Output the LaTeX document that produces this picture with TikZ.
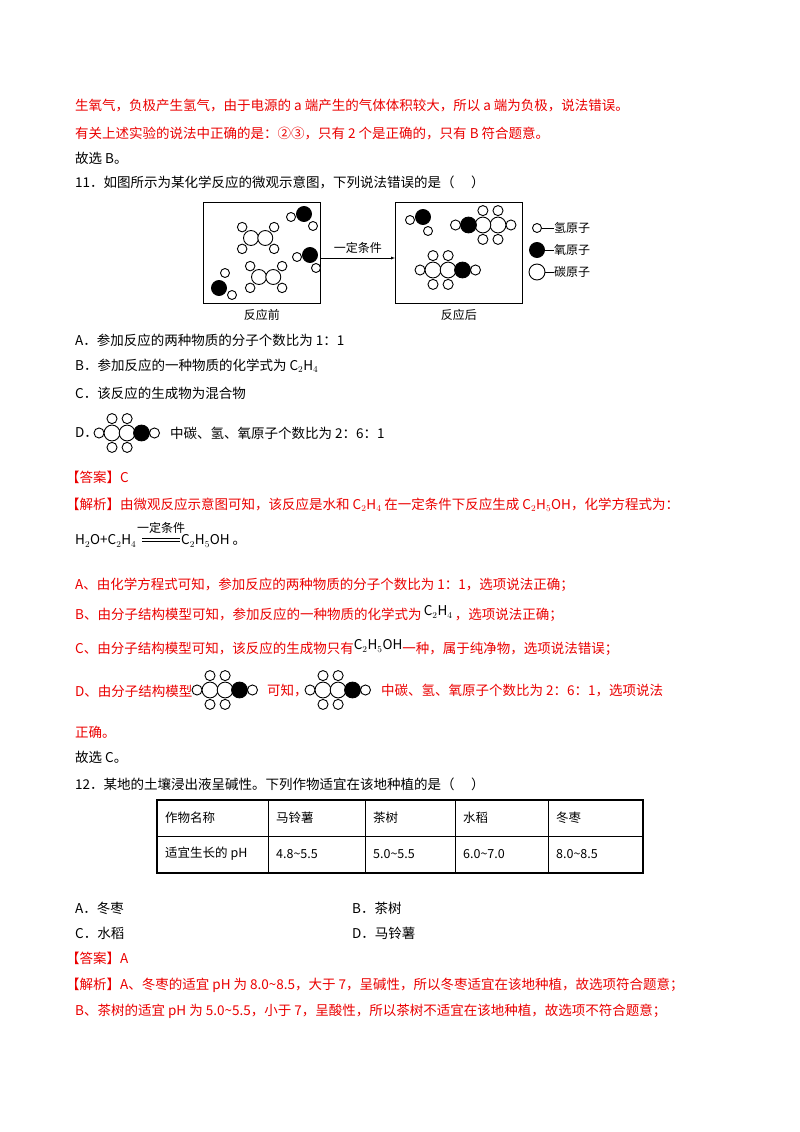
\documentclass[tikz,border=0pt]{standalone}
\usepackage{fontspec}
\setmainfont{Noto Sans CJK SC}
\tikzset{
  txt/.style={anchor=west,inner sep=0pt,font=\fontsize{13.5}{14}\selectfont},
  redtxt/.style={txt,text=ansred},
  hatom/.style={draw,fill=white,line width=0.9pt},
  catom/.style={draw,fill=white,line width=0.9pt},
  oatom/.style={draw,fill=black,line width=0.9pt},
  ethanol/.pic={
    \draw[hatom] (-18,0) circle (7);
    \draw[hatom] (0,-20) circle (7);
    \draw[hatom] (21,-20) circle (7);
    \draw[hatom] (0,20) circle (7);
    \draw[hatom] (21,20) circle (7);
    \draw[hatom] (59,0) circle (7);
    \draw[catom] (0,0) circle (11);
    \draw[catom] (21,0) circle (11);
    \draw[oatom] (41,0) circle (11);
  },
  ethene/.pic={
    \draw[hatom] (-13,-16) circle (7);
    \draw[hatom] (-13,16) circle (7);
    \draw[hatom] (34,-16) circle (7);
    \draw[hatom] (34,16) circle (7);
    \draw[catom] (0,0) circle (11);
    \draw[catom] (21,0) circle (11);
  }
}
\definecolor{ansred}{RGB}{235,0,0}
\begin{document}
\begin{tikzpicture}[x=1pt,y=-1pt]
  \useasboundingbox[fill=white] (0,0) rectangle (800,1132);

  % previous answer
  \node[redtxt] (l1) at (75,106) {生氧气，负极产生氢气，由于电源的 a 端产生的气体体积较大，所以 a 端为负极，说法错误。};
  \node[redtxt] (l2) at (75,133) {有关上述实验的说法中正确的是：②③，只有 2 个是正确的，只有 B 符合题意。};
  \node[txt] (l3) at (75,158) {故选 B。};

  % question 11
  \node[txt] (q11) at (75,182) {11．如图所示为某化学反应的微观示意图，下列说法错误的是（\quad\ ）};
  \node[draw,line width=0.9pt,minimum width=117pt,minimum height=101pt,anchor=north west,inner sep=0] (before) at (203,202) {};
  \node[draw,line width=0.9pt,minimum width=127pt,minimum height=101pt,anchor=north west,inner sep=0] (after) at (395,202) {};
  \coordinate (arrowin) at (395,258);
  \draw[-latex] (before.east |- arrowin) -- (arrowin) node[midway,above=1pt,font=\fontsize{12}{12}\selectfont] (cond) {一定条件};
  \node[font=\fontsize{12}{12}\selectfont] (lbefore) at (before.south |- 0,315) {反应前};
  \node[font=\fontsize{12}{12}\selectfont] (lafter) at (after.south |- 0,315) {反应后};

  % before
  \pic[scale=0.68] at (251,238) {ethene};
  \pic[scale=0.68] at (259,277) {ethene};
  \draw[hatom] (291,217) circle (4.5);
  \draw[hatom] (313,226) circle (4.5);
  \draw[oatom] (304,214) circle (7.5);
  \draw[hatom] (297,257) circle (4.5);
  \draw[hatom] (316,268) circle (4.5);
  \draw[oatom] (310,255) circle (7.5);
  \draw[hatom] (225,273) circle (4.5);
  \draw[hatom] (232,295) circle (4.5);
  \draw[oatom] (219,288) circle (7.5);
  % after
  \draw[hatom] (410,220) circle (4.5);
  \draw[hatom] (428,231) circle (4.5);
  \draw[oatom] (423,217) circle (7.5);
  \pic[scale=0.72,xscale=-1] at (498,225) {ethanol};
  \pic[scale=0.72] at (433,270) {ethanol};
  % legend
  \draw[hatom] (537,228) circle (4.5);
  \draw (541.5,228) -- (554,228);
  \node[anchor=west,inner sep=0,font=\fontsize{12}{12}\selectfont] (hlab) at (554,228) {氢原子};
  \draw[oatom] (537,250) circle (7.5);
  \draw (544.5,250) -- (554,250);
  \node[anchor=west,inner sep=0,font=\fontsize{12}{12}\selectfont] (olab) at (554,250) {氧原子};
  \draw[catom] (537,272) circle (8);
  \draw (545,272) -- (554,272);
  \node[anchor=west,inner sep=0,font=\fontsize{12}{12}\selectfont] (clab) at (554,272) {碳原子};

  % options
  \node[txt] (oa) at (75,340) {A．参加反应的两种物质的分子个数比为 1：1};
  \node[txt] (ob) at (75,366) {B．参加反应的一种物质的化学式为 C$_2$H$_4$};
  \node[txt] (oc) at (75,393) {C．该反应的生成物为混合物};
  \node[txt] (od) at (75,433) {D．};
  \pic[scale=0.72] at (112,433) {ethanol};
  \node[txt] (odt) at (170,433) {中碳、氢、氧原子个数比为 2：6：1};

  % answer
  \node[redtxt] (ans) at (66,477) {【答案】C};
  \node[redtxt] (ana) at (66,505) {【解析】由微观反应示意图可知，该反应是水和 C$_2$H$_4$ 在一定条件下反应生成 C$_2$H$_5$OH，化学方程式为：};
  \node[txt] (eq1) at (75,541) {H$_2$O+C$_2$H$_4$};
  \draw (142,538) -- (180,538) (142,541) -- (180,541);
  \node[font=\fontsize{12}{12}\selectfont,inner sep=0] (eqc) at (161,528) {一定条件};
  \node[txt] (eq2) at (181,541) {C$_2$H$_5$OH 。};
  \node[redtxt] (sa) at (75,585) {A、由化学方程式可知，参加反应的两种物质的分子个数比为 1：1，选项说法正确；};
  \node[redtxt] (sb) at (75,614) {B、由分子结构模型可知，参加反应的一种物质的化学式为\,\raisebox{4pt}{\color{black}C$_2$H$_4$}\,，选项说法正确；};
  \node[redtxt] (sc) at (75,648) {C、由分子结构模型可知，该反应的生成物只有\raisebox{4pt}{\color{black}C$_2$H$_5$OH}一种，属于纯净物，选项说法错误；};
  \node[redtxt] (sd) at (75,691) {D、由分子结构模型};
  \pic[scale=0.72] at (210,690) {ethanol};
  \node[redtxt] (sd2) at (267,691) {可知，};
  \pic[scale=0.72] at (323,690) {ethanol};
  \node[redtxt] (sd3) at (381,691) {中碳、氢、氧原子个数比为 2：6：1，选项说法};
  \node[redtxt] (sd4) at (75,732) {正确。};
  \node[txt] (gx) at (75,757) {故选 C。};

  % question 12
  \node[txt] (q12) at (75,784) {12．某地的土壤浸出液呈碱性。下列作物适宜在该地种植的是（\quad\ ）};
  \draw[line width=1.2pt] (157,800) rectangle (643,873);
  \draw (157,836) -- (643,836);
  \foreach \cx in {268,365,455,548} \draw (\cx,800) -- (\cx,873);
  \foreach \cx/\ta/\tb [count=\i] in {157/作物名称/适宜生长的 pH,268/马铃薯/4.8\textasciitilde5.5,365/茶树/5.0\textasciitilde5.5,455/水稻/6.0\textasciitilde7.0,548/冬枣/8.0\textasciitilde8.5}{
    \node[txt,font=\fontsize{12.5}{13}\selectfont] (ta\i) at (\cx+8,818) {\ta};
    \node[txt,font=\fontsize{12.5}{13}\selectfont] (tb\i) at (\cx+8,854) {\tb};
  }
  \node[txt] (pa) at (75,908) {A．冬枣};
  \node[txt] (pb) at (352,908) {B．茶树};
  \node[txt] (pc) at (75,933) {C．水稻};
  \node[txt] (pd) at (352,933) {D．马铃薯};
  \node[redtxt] (ans2) at (66,958) {【答案】A};
  \node[redtxt] (an2a) at (66,985) {【解析】A、冬枣的适宜 pH 为 8.0\textasciitilde8.5，大于 7，呈碱性，所以冬枣适宜在该地种植，故选项符合题意；};
  \node[redtxt] (an2b) at (75,1011) {B、茶树的适宜 pH 为 5.0\textasciitilde5.5，小于 7，呈酸性，所以茶树不适宜在该地种植，故选项不符合题意；};
\end{tikzpicture}
\end{document}
